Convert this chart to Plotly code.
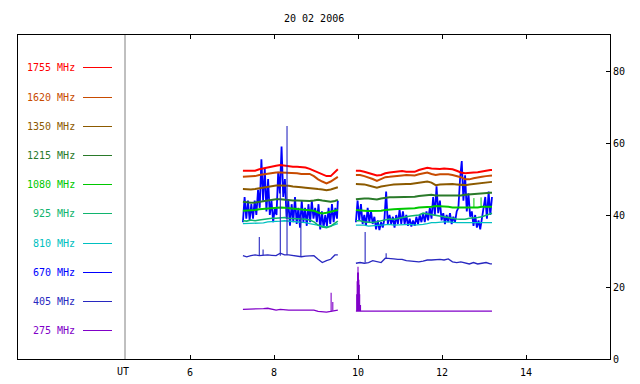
import plotly.graph_objects as go

# ---------------- data ----------------
TITLE = "20 02 2006"
FREQ_LABELS = ["1755 MHz", "1620 MHz", "1350 MHz", "1215 MHz", "1080 MHz",
               "925 MHz", "810 MHz", "670 MHz", "405 MHz", "275 MHz"]
X_TICKS = [6, 8, 10, 12, 14]
Y_TICKS = [0, 20, 40, 60, 80]

# time samples (UT hours) for the smooth channels
T_A = [7.26, 7.35, 7.45, 7.55, 7.65, 7.75, 7.85, 7.95, 8.05, 8.15, 8.25, 8.35,
       8.45, 8.55, 8.65, 8.75, 8.85, 8.95, 9.05, 9.15, 9.25, 9.35, 9.45, 9.52]
T_B = [9.95, 10.05, 10.15, 10.25, 10.35, 10.45, 10.55, 10.65, 10.75, 10.85,
       10.95, 11.05, 11.15, 11.25, 11.35, 11.45, 11.55, 11.65, 11.75, 11.85,
       11.95, 12.05, 12.15, 12.25, 12.35, 12.45, 12.55, 12.65, 12.75, 12.85,
       12.95, 13.05, 13.15, 13.19]

F1755_A = [52.3, 52.3, 52.5, 52.3, 52.7, 53.0, 53.2, 53.4, 53.7, 53.9, 53.7, 53.6,
           53.4, 53.4, 53.4, 53.2, 52.8, 52.3, 51.8, 51.1, 50.8, 50.8, 51.8, 52.7]
F1755_B = [52.3, 52.3, 52.0, 51.6, 51.3, 51.0, 51.1, 51.6, 51.8, 52.0,
           52.2, 52.2, 52.0, 52.0, 52.0, 52.5, 52.9, 53.1, 52.9, 52.8,
           52.8, 52.9, 52.9, 52.7, 52.3, 51.8, 51.6, 51.6, 51.8, 51.9,
           52.0, 52.3, 52.5, 52.5]
F1620_A = [50.6, 50.6, 50.6, 50.8, 51.1, 51.3, 51.4, 51.6, 51.8, 51.8, 51.8, 51.8,
           51.6, 51.6, 51.4, 51.4, 51.4, 50.8, 49.9, 49.3, 48.8, 49.3, 50.2, 50.6]
F1620_B = [51.1, 51.1, 50.8, 50.5, 50.0, 49.5, 49.9, 50.5, 50.6, 50.8,
           51.0, 51.0, 51.1, 51.1, 51.0, 51.3, 51.6, 51.8, 51.4, 51.1,
           51.3, 51.4, 51.3, 51.1, 50.8, 50.5, 49.9, 49.9, 50.2, 50.5,
           50.6, 50.8, 51.0, 51.0]
F1350_A = [47.2, 47.1, 47.1, 47.2, 47.4, 47.6, 47.9, 48.1, 48.2, 48.2, 48.2, 48.1,
           47.9, 47.9, 47.7, 47.6, 47.4, 47.4, 47.2, 47.1, 46.9, 47.1, 47.4, 47.7]
F1350_B = [48.6, 48.6, 48.5, 48.2, 47.9, 47.6, 47.9, 48.2, 48.3, 48.5,
           48.6, 48.6, 48.6, 48.6, 48.8, 48.8, 49.1, 49.3, 49.0, 48.3,
           48.5, 48.6, 48.6, 48.6, 48.5, 48.3, 48.3, 48.5, 48.6, 48.8,
           48.8, 49.0, 49.2, 49.2]
F1215_A = [43.7, 43.5, 43.4, 43.5, 43.7, 43.9, 44.2, 44.2, 44.4, 44.4, 44.2, 44.2,
           44.0, 44.0, 43.9, 44.0, 43.9, 44.0, 44.2, 44.0, 43.9, 43.7, 43.9, 44.2]
F1215_B = [44.4, 44.6, 44.6, 44.6, 44.4, 44.3, 44.6, 44.8, 44.9, 44.9,
           44.9, 45.1, 45.1, 45.1, 45.1, 45.3, 45.4, 45.4, 45.6, 45.4,
           45.3, 45.4, 45.4, 45.4, 45.3, 45.4, 45.6, 45.7, 45.8, 46.0,
           46.2, 46.2, 46.2, 46.2]
F1080_A = [41.2, 41.2, 41.4, 41.4, 41.6, 41.7, 41.9, 42.0, 42.1, 42.1, 42.0, 41.9,
           41.9, 41.7, 41.6, 41.6, 41.4, 41.2, 40.7, 40.4, 40.6, 40.9, 41.2, 41.4]
F1080_B = [41.4, 41.4, 41.2, 41.1, 41.1, 41.1, 41.2, 41.4, 41.4, 41.6,
           41.7, 41.7, 41.7, 41.9, 41.9, 42.1, 42.1, 42.3, 42.3, 42.5,
           42.5, 42.5, 42.3, 42.1, 42.1, 41.9, 41.9, 42.0, 42.1, 42.1,
           42.3, 42.3, 42.3, 42.3]
F925_A = [38.4, 38.3, 38.6, 38.4, 38.6, 38.8, 38.9, 39.1, 39.1, 39.3, 39.3, 39.1,
          39.1, 38.9, 38.9, 38.8, 38.6, 38.1, 37.2, 36.7, 36.5, 36.9, 37.6, 38.3]
F925_B = [38.4, 38.4, 38.1, 37.9, 37.9, 38.1, 38.3, 38.6, 38.9, 38.8,
          39.1, 39.3, 39.5, 39.7, 39.8, 40.0, 40.5, 40.3, 39.9, 39.7,
          39.5, 39.5, 39.3, 39.1, 38.9, 38.8, 38.8, 39.1, 39.1, 39.3,
          39.5, 40.0, 40.5, 40.5]
F810_A = [37.6, 37.6, 37.6, 37.6, 37.8, 37.8, 38.1, 38.1, 38.3, 38.3, 38.4, 38.3,
          38.1, 38.1, 38.1, 37.9, 37.6, 37.4, 37.2, 36.9, 36.7, 36.9, 37.2, 37.6]
F810_B = [37.2, 37.2, 37.2, 36.9, 36.9, 37.1, 37.2, 37.4, 37.4, 37.2,
          37.3, 37.4, 37.4, 37.4, 37.2, 37.2, 37.4, 37.6, 37.9, 37.9,
          38.1, 38.1, 38.1, 37.9, 37.9, 37.9, 37.9, 37.9, 37.9, 37.9,
          37.9, 37.9, 37.9, 37.9]
F405_A = [28.7, 28.4, 28.7, 28.9, 28.7, 28.9, 28.9, 28.8, 28.7, 29.4, 28.9, 28.9,
          28.7, 28.4, 28.4, 28.6, 28.7, 28.7, 27.7, 26.8, 27.3, 27.7, 28.9, 28.9]
F405_B = [26.6, 26.8, 26.6, 26.8, 27.3, 27.0, 26.8, 28.0, 27.8, 27.8,
          27.7, 27.7, 27.3, 27.2, 27.0, 27.0, 27.2, 27.5, 27.5, 27.7,
          27.7, 27.5, 27.8, 27.0, 26.8, 27.0, 26.6, 26.4, 26.8, 26.4,
          26.6, 26.8, 26.4, 26.4]
F275_A = [13.8, 13.8, 13.8, 13.8, 13.8, 14.0, 14.1, 13.8, 13.6, 13.8, 13.6, 13.6,
          13.6, 13.6, 13.6, 13.6, 13.6, 13.6, 13.2, 13.0, 13.0, 13.2, 13.4, 13.6]
F275_B = [13.3, 13.3, 13.3, 13.3, 13.3, 13.3, 13.4, 13.3, 13.3, 13.3,
          13.3, 13.3, 13.3, 13.3, 13.3, 13.4, 13.4, 13.4, 13.3, 13.3,
          13.3, 13.3, 13.3, 13.3, 13.5, 13.3, 13.3, 13.3, 13.3, 13.4,
          13.3, 13.3, 13.3, 13.3]

# 670 MHz is bursty: denser sampling
T670_A = [7.26, 7.30, 7.34, 7.38, 7.42, 7.46, 7.50, 7.54, 7.58, 7.62,
          7.66, 7.70, 7.74, 7.78, 7.82, 7.86, 7.90, 7.94, 7.98, 8.02,
          8.06, 8.10, 8.14, 8.18, 8.22, 8.26, 8.30, 8.34, 8.38, 8.42,
          8.46, 8.50, 8.54, 8.58, 8.62, 8.66, 8.70, 8.74, 8.78, 8.82,
          8.86, 8.90, 8.94, 8.98, 9.02, 9.06, 9.10, 9.14, 9.18, 9.22,
          9.26, 9.30, 9.34, 9.38, 9.42, 9.46, 9.50, 9.52]
F670_A = [38, 45, 39, 44, 38.5, 43, 39, 44, 40, 47,
          42, 55.5, 44, 53, 41, 50, 40, 44, 38, 42,
          40, 52, 46, 59, 45, 50, 39, 44, 37, 43,
          38, 45, 37.5, 42, 36.5, 44, 38, 42, 37, 43,
          38, 44, 39, 42, 38, 43, 36, 41, 36.5, 40,
          37, 42, 37.5, 43, 38, 42, 39, 44]
T670_B = [9.95, 9.99, 10.03, 10.07, 10.11, 10.15, 10.19, 10.23, 10.27, 10.31,
          10.35, 10.39, 10.43, 10.47, 10.51, 10.55, 10.59, 10.63, 10.67, 10.71,
          10.75, 10.79, 10.83, 10.87, 10.91, 10.95, 10.99, 11.03, 11.07, 11.11,
          11.15, 11.19, 11.23, 11.27, 11.31, 11.35, 11.39, 11.43, 11.47, 11.51,
          11.55, 11.59, 11.63, 11.67, 11.71, 11.75, 11.79, 11.83, 11.87, 11.91,
          11.95, 11.99, 12.03, 12.07, 12.11, 12.15, 12.19, 12.23, 12.27, 12.31,
          12.35, 12.39, 12.43, 12.47, 12.51, 12.55, 12.59, 12.63, 12.67, 12.71,
          12.75, 12.79, 12.83, 12.87, 12.91, 12.95, 12.99, 13.03, 13.07, 13.11,
          13.15, 13.19]
F670_B = [38, 44, 38.5, 43, 37.5, 40, 37, 42, 38, 41,
          37.5, 39.5, 36, 38.5, 35.8, 38, 36.5, 39, 46.5, 37.5,
          40, 37.5, 39.5, 36.5, 40, 37.5, 41.5, 37.5, 41, 37.5,
          40, 37, 39, 36.8, 38.5, 37, 39.5, 37.5, 40, 38,
          40.5, 38, 41, 38.5, 42, 39, 45, 40, 48, 40.5,
          44, 38.5, 40.5, 37.5, 40, 38, 40.5, 37.5, 39.5, 38,
          41, 42, 50, 55, 44, 51, 41, 46, 39.5, 41,
          37, 40, 36.5, 38.5, 36, 39, 41, 45, 39, 46.5,
          40, 45]

# isolated spikes (time, base, peak)
S405_T = [7.65, 7.74, 8.15, 8.31, 8.64, 10.17, 10.67]
S405_BASE = [28.7, 28.9, 28.7, 28.9, 28.6, 26.8, 28.0]
S405_PEAK = [33.9, 30.4, 47.0, 64.7, 39.5, 35.3, 29.4]
S275_T = [9.36, 9.40, 9.97, 9.98, 9.99, 10.00, 10.01, 10.02, 10.03, 10.04, 10.06]
S275_BASE = [13.2, 13.4, 13.3, 13.3, 13.3, 13.3, 13.3, 13.3, 13.3, 13.3, 13.3]
S275_PEAK = [18.4, 15.8, 18.0, 21.6, 24.0, 25.6, 24.0, 22.0, 20.6, 18.0, 15.0]
S1080_T = [12.76, 12.93]
S1080_BASE = [42.0, 42.3]
S1080_PEAK = [44.7, 44.9]

# ---------------- styling ----------------
COLORS = {
    "1755": "#ff0000", "1620": "#c84b00", "1350": "#8c5a00", "1215": "#2a7a2a",
    "1080": "#00c800", "925": "#10b46e", "810": "#00c0c0", "670": "#0000ff",
    "405": "#2828c0", "275": "#8000c8",
}
FONT = "DejaVu Sans Mono"

fig = go.Figure()


def add_series(ta, va, tb, vb, color, width):
    assert len(ta) == len(va) and len(tb) == len(vb)
    fig.add_trace(go.Scatter(x=list(ta) + [None] + list(tb),
                             y=list(va) + [None] + list(vb),
                             mode="lines", line=dict(color=color, width=width),
                             connectgaps=False, showlegend=False, hoverinfo="skip"))


def add_spikes(ts, bases, peaks, color, width):
    xs, ys = [], []
    for t, b, p in zip(ts, bases, peaks):
        xs += [t, t, None]
        ys += [b, p, None]
    fig.add_trace(go.Scatter(x=xs, y=ys, mode="lines",
                             line=dict(color=color, width=width),
                             showlegend=False, hoverinfo="skip"))


add_series(T670_A, F670_A, T670_B, F670_B, COLORS["670"], 1.8)
add_series(T_A, F810_A, T_B, F810_B, COLORS["810"], 1.3)
add_series(T_A, F925_A, T_B, F925_B, COLORS["925"], 1.6)
add_series(T_A, F1080_A, T_B, F1080_B, COLORS["1080"], 2)
add_spikes(S1080_T, S1080_BASE, S1080_PEAK, COLORS["1080"], 1)
add_series(T_A, F1215_A, T_B, F1215_B, COLORS["1215"], 2)
add_series(T_A, F1350_A, T_B, F1350_B, COLORS["1350"], 2)
add_series(T_A, F1620_A, T_B, F1620_B, COLORS["1620"], 2)
add_series(T_A, F1755_A, T_B, F1755_B, COLORS["1755"], 2)
add_series(T_A, F405_A, T_B, F405_B, COLORS["405"], 1.3)
add_spikes(S405_T, S405_BASE, S405_PEAK, COLORS["405"], 1.1)
add_series(T_A, F275_A, T_B, F275_B, COLORS["275"], 1.3)
add_spikes(S275_T, S275_BASE, S275_PEAK, COLORS["275"], 1.1)

# layout geometry (pixels of the 640x384 canvas)
L, R, T, B = 18, 610, 35, 359
W, H = R - L, B - T

shapes = []
annotations = []
legend_keys = ["1755", "1620", "1350", "1215", "1080", "925", "810", "670", "405", "275"]
for i, (lab, key) in enumerate(zip(FREQ_LABELS, legend_keys)):
    py = round(67.3 + 29.22 * i) + 0.5
    yp = (B - py) / H
    annotations.append(dict(x=(77 - L) / W, y=yp, xref="paper", yref="paper",
                            xanchor="right", yanchor="middle", showarrow=False,
                            text=lab, font=dict(family=FONT, size=10, color=COLORS[key])))
    shapes.append(dict(type="line", xref="paper", yref="paper",
                       x0=(83 - L) / W, x1=(112 - L) / W, y0=yp, y1=yp,
                       line=dict(color=COLORS[key], width=1)))

# separator line between legend and data
ut_x = 6 - (190 - 125) / 42.0
shapes.append(dict(type="line", xref="x", yref="paper", x0=ut_x, x1=ut_x, y0=0, y1=1,
                   line=dict(color="#808080", width=1)))
annotations.append(dict(x=ut_x - 0.05, y=0, xref="x", yref="paper", yanchor="top",
                        yshift=-5, showarrow=False, text="UT",
                        font=dict(family=FONT, size=10, color="black")))
annotations.append(dict(x=0.5, y=1 + (T - 18.2) / H, xref="paper", yref="paper",
                        yanchor="middle", showarrow=False, text=TITLE,
                        font=dict(family=FONT, size=10, color="black")))

x_min = 6 - (190 - L) / 42.0
x_max = 6 + (R - 190) / 42.0

fig.update_layout(
    width=640, height=384,
    margin=dict(l=L, r=640 - R, t=T, b=384 - B, autoexpand=False),
    paper_bgcolor="white", plot_bgcolor="white",
    font=dict(family=FONT, size=10, color="black"),
    shapes=shapes, annotations=annotations,
    showlegend=False,
    xaxis=dict(range=[x_min, x_max], tickvals=X_TICKS, ticks="inside", ticklen=4,
               tickcolor="black", showline=True, linecolor="black", linewidth=1,
               mirror="ticks", showgrid=False, zeroline=False, ticklabelstandoff=4,
               automargin=False, tickfont=dict(family=FONT, size=10)),
    yaxis=dict(range=[0, 90], tickvals=Y_TICKS, side="right", ticks="inside",
               ticklen=4, tickcolor="black", showline=True, linecolor="black",
               linewidth=1, mirror=True, showgrid=False, zeroline=False,
               automargin=False, tickfont=dict(family=FONT, size=10)),
)

fig.write_html("out.html", config={"displayModeBar": False},
               post_script="document.body.style.margin='0';document.body.style.padding='0';")
